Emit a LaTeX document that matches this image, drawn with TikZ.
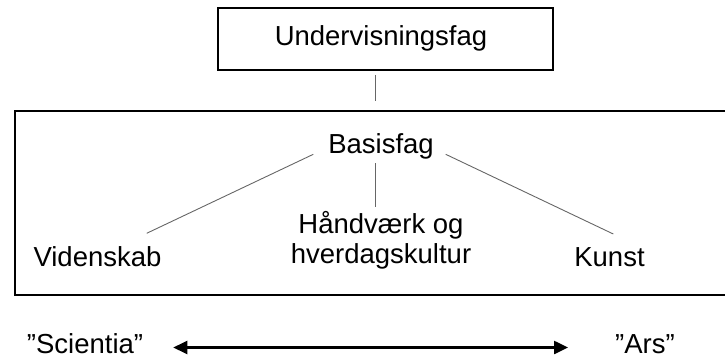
\documentclass[tikz,border=0pt]{standalone}
\usepackage{fontspec}
\setmainfont{Liberation Sans}
\usetikzlibrary{arrows.meta}
\begin{document}
\begin{tikzpicture}[x=1pt,y=-1pt,
  lbl/.style={font=\fontsize{27.5}{30}\selectfont, inner sep=0pt, anchor=base, text=black},
  frame/.style={draw=black, line width=2pt, inner sep=0pt, anchor=north west},
  conn/.style={draw=black!60, line width=0.9pt},
  dblarrow/.style={draw=black, line width=2.5pt, {Triangle[length=14pt,width=13pt]}-{Triangle[length=14pt,width=13pt]}}]
\useasboundingbox (0,0) rectangle (725,358);
\clip (0,0) rectangle (725,358);
% boxes
\node[frame, minimum width=335.6pt, minimum height=62pt] (topbox) at (216.7,7.3) {};
\node[frame, minimum width=730pt, minimum height=184pt] (basebox) at (14,110) {};
% texts
\node[lbl] (under) at (381,45.7) {Undervisningsfag};
\node[lbl] (basis) at (381,153.3) {Basisfag};
\node[lbl] (viden) at (97.5,266.7) {Videnskab};
\node[lbl, align=center] (haand) at (381,263.3) {Håndværk og\\hverdagskultur};
\node[lbl] (kunst) at (609.5,266.7) {Kunst};
\node[lbl] (sci) at (85,353.5) {”Scientia”};
\node[lbl] (ars) at (645,353.5) {”Ars”};
% connector end points
\coordinate (t1) at (375.7,75);
\coordinate (t2) at (375.7,100.7);
\coordinate (bL) at (313.3,154.3);
\coordinate (bR) at (445.7,154.3);
\coordinate (bC) at (375.7,163.3);
\coordinate (vE) at (146.7,233.3);
\coordinate (kE) at (613.3,234);
\coordinate (hE) at (375.7,207.3);
\coordinate (aL) at (173.3,347.5);
\coordinate (aR) at (568,347.5);
% connectors
\draw[conn] (t1) -- (t2);
\draw[conn] (bL) -- (vE);
\draw[conn] (bC) -- (hE);
\draw[conn] (bR) -- (kE);
\draw[dblarrow] (aL) -- (aR);
\end{tikzpicture}
\end{document}
